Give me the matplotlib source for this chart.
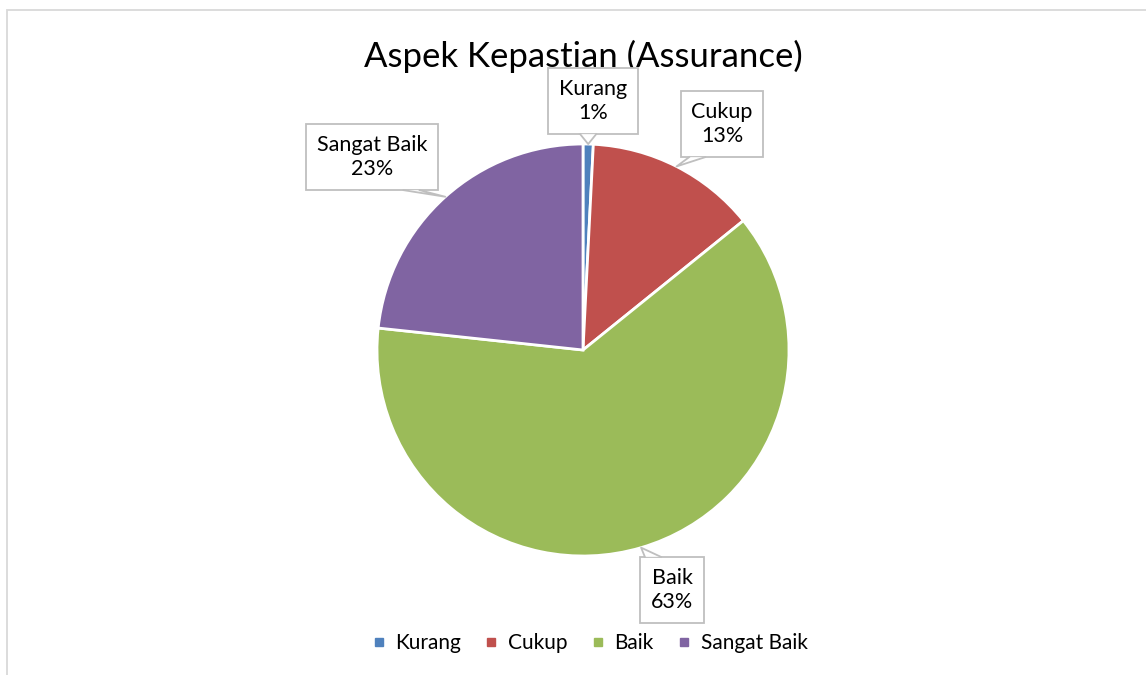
import numpy as np
import matplotlib
matplotlib.use("Agg")
import matplotlib.pyplot as plt
from matplotlib.patches import Rectangle, Polygon
from matplotlib.lines import Line2D

categories = ["Kurang", "Cukup", "Baik", "Sangat Baik"]
values = [0.8, 13.4, 62.5, 23.3]
pct_labels = ["1%", "13%", "63%", "23%"]
colors = ["#4F81BD", "#C0504D", "#9BBB59", "#8064A2"]
title = "Aspek Kepastian (Assurance)"

plt.rcParams['font.family'] = ['Lato', 'DejaVu Sans']

W, H = 1146, 675
fig = plt.figure(figsize=(W / 100, H / 100), dpi=100)
fig.patch.set_facecolor("white")
EDGE = "#BFBFBF"

# outer chart frame (clipped at right/bottom like the reference)
fig.patches.append(Rectangle((7 / W, -0.05), 1.2, 1 - 10 / H + 0.05,
                             transform=fig.transFigure, fill=False,
                             edgecolor="#D9D9D9", linewidth=1.3, zorder=0.5))

cx, cy, r = 583, 350, 206
ax = fig.add_axes([(cx - r) / W, (H - cy - r) / H, 2 * r / W, 2 * r / H])
wedges, _ = ax.pie(values, colors=colors, startangle=90, counterclock=False,
                   radius=1, wedgeprops=dict(edgecolor="white", linewidth=2))
ax.set_xlim(-1, 1)
ax.set_ylim(-1, 1)
ax.set_aspect("equal")
ax.axis("off")

fig.text(cx / W, 1 - 67 / H, title, ha="center", va="baseline",
         fontsize=25, color="#000000")

# label box centres in pixels
label_pos = [(593, 101), (722, 124), (672, 590), (372, 157)]
anns = []
tips = []
for w, cat, pl, (lx, ly) in zip(wedges, categories, pct_labels, label_pos):
    ang = np.deg2rad((w.theta1 + w.theta2) / 2)
    tip = (np.cos(ang), np.sin(ang))
    a = fig.text(lx / W, 1 - ly / H, f"{cat}\n{pl}",
                 ha="center", va="center", fontsize=15.5, color="#000000",
                 linespacing=1.3, multialignment="center", zorder=3,
                 bbox=dict(boxstyle="square,pad=0.5", facecolor="white",
                           edgecolor=EDGE, linewidth=1.3))
    anns.append(a)
    tips.append(tip)

fig.canvas.draw()
inv = fig.transFigure.inverted()
for a, tip in zip(anns, tips):
    bb = a.get_bbox_patch().get_window_extent()
    tx, ty = ax.transData.transform(tip)
    wbox = bb.x1 - bb.x0
    bx = np.clip(tx, bb.x0 + 0.2 * wbox, bb.x1 - 0.2 * wbox)
    by = bb.y0 if ty < bb.y0 else bb.y1
    half = 8
    pts_disp = np.array([[bx - half, by], [tx, ty], [bx + half, by]])
    pts = inv.transform(pts_disp)
    fig.patches.append(Polygon(pts, closed=True, facecolor="white",
                               edgecolor="none", transform=fig.transFigure,
                               zorder=3.5))
    fig.lines.append(Line2D(pts[:, 0], pts[:, 1], color=EDGE, linewidth=1.3,
                            transform=fig.transFigure, zorder=3.6))

handles = [plt.Line2D([], [], marker="s", linestyle="", markersize=6,
                      markerfacecolor=c, markeredgecolor=c) for c in colors]
fig.legend(handles, categories, loc="center", bbox_to_anchor=(590 / W, 1 - 643 / H),
           ncol=4, frameon=False, fontsize=15, handlelength=0.6,
           handletextpad=0.5, columnspacing=1.15)

fig.savefig("out.png", dpi=100, facecolor="white")
